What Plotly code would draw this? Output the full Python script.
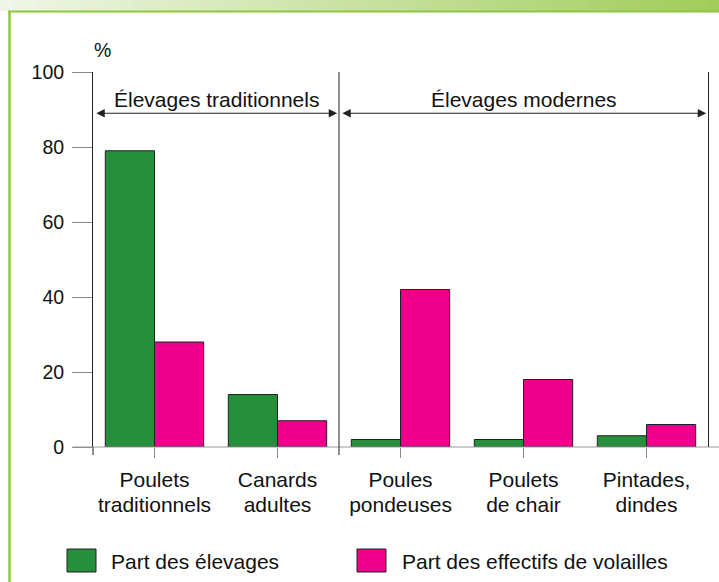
import plotly.graph_objects as go

cat_line1 = ["Poulets", "Canards", "Poules", "Poulets", "Pintades,"]
cat_line2 = ["traditionnels", "adultes", "pondeuses", "de chair", "dindes"]
part_elevages = [79, 14, 2, 2, 3]
part_effectifs = [28, 7, 42, 18, 6]
y_ticks = [0, 20, 40, 60, 80, 100]
series_names = ["Part des élevages", "Part des effectifs de volailles"]
group_labels = ["Élevages traditionnels", "Élevages modernes"]

GREEN = "#268f3b"
PINK = "#ec008b"
FONT = "Liberation Sans, Arial, sans-serif"
FS = 19.5
FS_TXT = 21

W, H = 719, 582
L, R, T, B = 93, 11, 72, 135
PW, PH = W - L - R, H - T - B


def px_x(px):
    return (px - L) / PW


def px_y(py):
    return (H - B - py) / PH


x_idx = list(range(len(cat_line1)))

fig = go.Figure()
fig.add_trace(go.Bar(x=x_idx, y=part_elevages, name=series_names[0],
                     marker=dict(color=GREEN, line=dict(color="#222", width=1))))
fig.add_trace(go.Bar(x=x_idx, y=part_effectifs, name=series_names[1],
                     marker=dict(color=PINK, line=dict(color="#222", width=1))))
# invisible helper trace so the second-line label axis is drawn
fig.add_trace(go.Scatter(x=x_idx, y=[0] * len(x_idx), xaxis="x2", yaxis="y",
                         mode="markers", marker=dict(opacity=0, size=1),
                         hoverinfo="skip", showlegend=False))

shapes = []
# top gradient band
N = 60
c0 = (0xF0, 0xF6, 0xE8)
c1 = (0xA2, 0xCC, 0x5A)
for i in range(N):
    t = i / (N - 1)
    c = tuple(int(round(a + (b - a) * t)) for a, b in zip(c0, c1))
    shapes.append(dict(type="rect", xref="paper", yref="paper",
                       x0=px_x(i * W / N), x1=px_x((i + 1) * W / N + 1),
                       y0=px_y(11), y1=px_y(0), line=dict(width=0),
                       fillcolor="rgb(%d,%d,%d)" % c, layer="below"))
shapes.append(dict(type="line", xref="paper", yref="paper", x0=px_x(8), x1=px_x(W),
                   y0=px_y(11.5), y1=px_y(11.5), line=dict(color="#8cc63f", width=2)))
shapes.append(dict(type="line", xref="paper", yref="paper", x0=px_x(9.5), x1=px_x(9.5),
                   y0=px_y(11), y1=px_y(H), line=dict(color="#8cc63f", width=2.5)))
# zero line extended
shapes.append(dict(type="line", xref="paper", yref="paper", x0=px_x(73), x1=px_x(W),
                   y0=0, y1=0, line=dict(color="#999", width=1.2)))
# separator between groups
shapes.append(dict(type="line", xref="x", yref="paper", x0=1.5, x1=1.5,
                   y0=px_y(455), y1=1, line=dict(color="#222", width=1)))
# y axis extension below
shapes.append(dict(type="line", xref="paper", yref="paper", x0=0, x1=0,
                   y0=px_y(455), y1=0, line=dict(color="#222", width=1)))
# legend swatches
shapes.append(dict(type="rect", xref="paper", yref="paper", x0=px_x(67), x1=px_x(96),
                   y0=px_y(572), y1=px_y(549), fillcolor=GREEN, line=dict(color="#222", width=1)))
shapes.append(dict(type="rect", xref="paper", yref="paper", x0=px_x(357), x1=px_x(386),
                   y0=px_y(572), y1=px_y(549), fillcolor=PINK, line=dict(color="#222", width=1)))

annotations = []
# group arrows
for (xa, xb) in [(-0.5, 1.5), (1.5, 4.5)]:
    annotations.append(dict(x=xb - 0.015, y=89, ax=xa + 0.015, ay=89, xref="x", yref="y",
                            axref="x", ayref="y", text="", showarrow=True,
                            arrowhead=2, arrowsize=1.4, arrowwidth=1.2, arrowcolor="#222",
                            arrowside="end+start"))
annotations.append(dict(x=0.5, y=92.6, xref="x", yref="y", text=group_labels[0],
                        showarrow=False, xanchor="center", yanchor="middle",
                        font=dict(family=FONT, size=FS_TXT, color="#111")))
annotations.append(dict(x=3.0, y=92.6, xref="x", yref="y", text=group_labels[1],
                        showarrow=False, xanchor="center", yanchor="middle",
                        font=dict(family=FONT, size=FS_TXT, color="#111")))
annotations.append(dict(x=px_x(102), y=px_y(50), xref="paper", yref="paper", text="%",
                        showarrow=False, xanchor="center", yanchor="middle",
                        font=dict(family=FONT, size=FS, color="#111")))
annotations.append(dict(x=px_x(109), y=px_y(561), xref="paper", yref="paper",
                        text=series_names[0], xanchor="left", yanchor="middle", showarrow=False,
                        font=dict(family=FONT, size=FS_TXT, color="#111")))
annotations.append(dict(x=px_x(400), y=px_y(561), xref="paper", yref="paper",
                        text=series_names[1], xanchor="left", yanchor="middle", showarrow=False,
                        font=dict(family=FONT, size=FS_TXT, color="#111")))

fig.update_layout(
    width=W, height=H,
    margin=dict(l=L, r=R, t=T, b=B, pad=0),
    paper_bgcolor="white", plot_bgcolor="white",
    barmode="group", bargap=0.2, bargroupgap=0,
    showlegend=False,
    font=dict(family=FONT, size=FS, color="#111"),
    shapes=shapes, annotations=annotations,
    xaxis=dict(range=[-0.5, 4.5], tickmode="array", tickvals=x_idx, ticktext=cat_line1,
               tickson="boundaries", ticks="outside", ticklen=10, tickcolor="#888",
               tickwidth=1.2, showgrid=False, zeroline=False, showline=False,
               ticklabelstandoff=4, tickfont=dict(family=FONT, size=FS_TXT, color="#111")),
    xaxis2=dict(overlaying="x", anchor="y", side="bottom", range=[-0.5, 4.5],
                tickmode="array", tickvals=x_idx, ticktext=cat_line2, ticks="",
                showgrid=False, zeroline=False, showline=False,
                ticklabelstandoff=43, tickfont=dict(family=FONT, size=FS_TXT, color="#111")),
    yaxis=dict(range=[0, 100], tickvals=y_ticks, ticks="outside", ticklen=20,
               tickcolor="#888", tickwidth=1.2, showgrid=False, zeroline=False,
               showline=True, linecolor="#222", linewidth=1, mirror=True,
               ticklabelstandoff=4, tickfont=dict(family=FONT, size=FS, color="#111")),
)

fig.write_html("out.html", config={"displayModeBar": False},
               post_script="document.body.style.margin='0';")
